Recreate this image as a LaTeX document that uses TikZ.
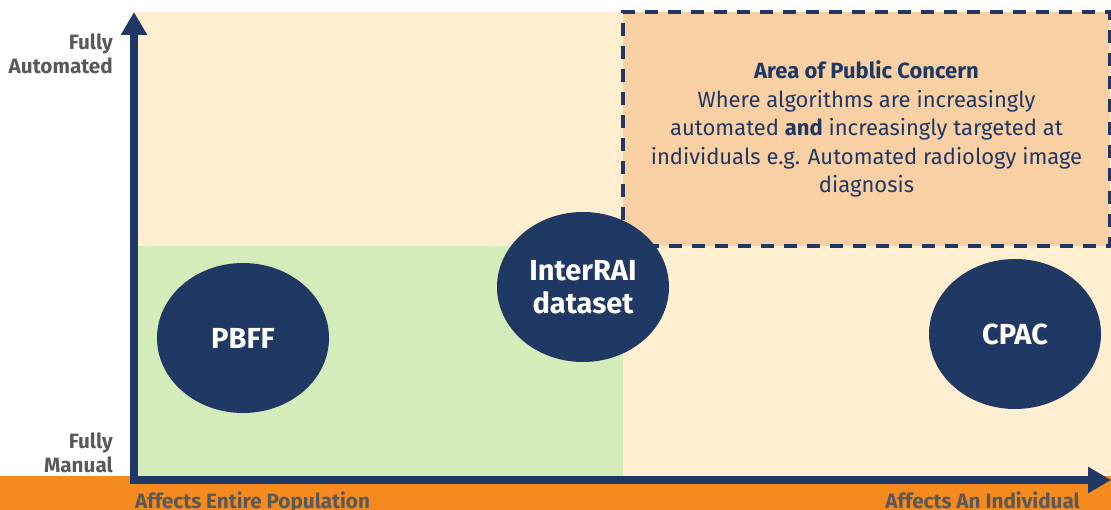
\documentclass[tikz,border=0pt]{standalone}
\usepackage{fontspec}
\setmainfont{Fira Sans}
\usepackage{tikz}
\usetikzlibrary{arrows.meta,shapes.geometric}
\definecolor{navy}{HTML}{203864}
\definecolor{cream}{HTML}{FFEFD0}
\definecolor{leaf}{HTML}{D4EBBA}
\definecolor{peach}{HTML}{F9CFA4}
\definecolor{tangerine}{HTML}{F58A1F}
\definecolor{slate}{HTML}{595959}
\tikzset{
	blob/.style={ellipse,fill=navy,minimum width=172pt,minimum height=150pt,inner sep=0pt,text=white,font=\fontsize{29}{33}\selectfont\bfseries,align=center},
	axisline/.style={navy,line width=8pt,-{Triangle[length=23pt,width=25pt]}},
	axislabel/.style={text=slate,font=\fontsize{20.7}{24.5}\selectfont\bfseries,inner sep=0pt},
	concern/.style={draw=navy,fill=peach,line width=3.3pt,dash pattern=on 13pt off 10pt,minimum width=487pt,minimum height=234pt,text=navy,align=center,font=\fontsize{22}{28.5}\selectfont}
	}
\begin{document}
\begin{tikzpicture}[x=1pt,y=-1pt]
  \useasboundingbox (0,0) rectangle (1111,510);
  % quadrants
  \fill[cream] (136,12) rectangle (1111,477);
  \fill[leaf] (136,246) rectangle (623,477);
  \fill[tangerine] (0,476) rectangle (1111,510);
  \node[concern] (public) at (866.5,129) {\textbf{Area of Public Concern}\\Where algorithms are increasingly\\automated \textbf{and} increasingly targeted at\\individuals e.g. Automated radiology image\\diagnosis};
  % axes
  \coordinate (ybase) at (134,484);
  \coordinate (ytop) at (134,12);
  \coordinate (xbase) at (130,480);
  \coordinate (xend) at (1111,480);
  \draw[axisline] (ybase) -- (ytop);
  \draw[axisline] (xbase) -- (xend);
  \node[axislabel,align=right,anchor=east] (automated) at (113,54) {Fully\\Automated};
  \node[axislabel,align=right,anchor=east] (manual) at (113,453) {Fully\\Manual};
  \node[axislabel,anchor=base west] (population) at (135,508) {Affects Entire Population};
  \node[axislabel,anchor=base east] (individual) at (1080,508) {Affects An Individual};
  % cases
  \node[blob] (pbff) at (243,338) {PBFF};
  \node[blob] (interrai) at (583,287) {InterRAI\\dataset};
  \node[blob] (cpac) at (1015,334) {CPAC};
\end{tikzpicture}
\end{document}
